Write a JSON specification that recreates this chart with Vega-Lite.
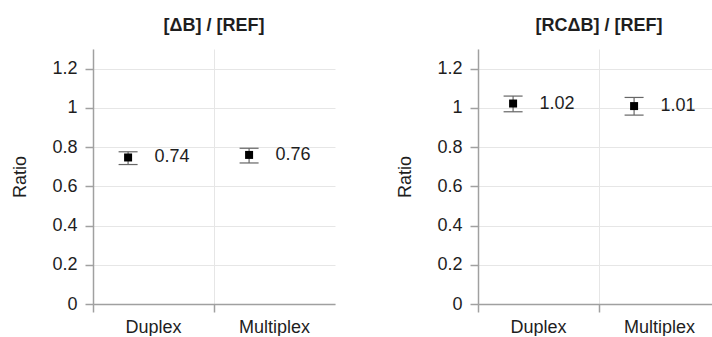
{
  "$schema": "https://vega.github.io/schema/vega-lite/v6.json",
  "padding": {"left": 11, "top": 17, "right": 0, "bottom": 0},
  "background": "white",
  "config": {
    "font": "Liberation Sans",
    "view": {"stroke": null},
    "axis": {
      "labelFont": "Liberation Sans", "labelFontSize": 18, "labelColor": "#1e1e1e",
      "titleFont": "Liberation Sans", "titleFontSize": 18, "titleFontWeight": "normal", "titleColor": "#1e1e1e",
      "domainColor": "#a0a0a0", "tickColor": "#a0a0a0", "gridColor": "#e6e6e6", "tickSize": 8, "domainWidth": 1.5, "tickWidth": 1.5
    },
    "title": {"font": "Liberation Sans", "fontSize": 18, "fontWeight": "bold", "color": "#1e1e1e", "offset": 14},
    "concat": {"spacing": 61}
  },
  "datasets": {
    "a": [
      {"method": "Duplex", "ratio": 0.747, "lo": 0.711, "hi": 0.776, "label": "0.74"},
      {"method": "Multiplex", "ratio": 0.760, "lo": 0.719, "hi": 0.794, "label": "0.76"}
    ],
    "b": [
      {"method": "Duplex", "ratio": 1.022, "lo": 0.980, "hi": 1.060, "label": "1.02"},
      {"method": "Multiplex", "ratio": 1.009, "lo": 0.963, "hi": 1.053, "label": "1.01"}
    ]
  },
  "hconcat": [
    {
      "title": "[ΔB] / [REF]",
      "width": 242, "height": 255,
      "data": {"name": "a"},
      "layer": [
        {
          "mark": {"type": "rule", "color": "#666", "strokeWidth": 1.2},
          "encoding": {
            "x": {"field": "method", "type": "nominal", "bandPosition": 0.29, "sort": ["Duplex", "Multiplex"],
              "scale": {"paddingInner": 0, "paddingOuter": 0},
              "axis": {"title": null, "labelAngle": 0, "grid": true, "bandPosition": 0, "labelPadding": 6}},
            "y": {"field": "lo", "type": "quantitative", "scale": {"domain": [0, 1.3], "nice": false},
              "axis": {"title": "Ratio", "values": [0, 0.2, 0.4, 0.6, 0.8, 1, 1.2], "format": "~g", "labelPadding": 8, "titlePadding": 22, "grid": true}},
            "y2": {"field": "hi"}
          }
        },
        {
          "mark": {"type": "point", "shape": "M-1,0L1,0", "filled": false, "size": 361, "strokeWidth": 1.2, "color": "#666", "opacity": 1},
          "encoding": {
            "x": {"field": "method", "type": "nominal", "bandPosition": 0.29},
            "y": {"field": "hi", "type": "quantitative"}
          }
        },
        {
          "mark": {"type": "point", "shape": "M-1,0L1,0", "filled": false, "size": 361, "strokeWidth": 1.2, "color": "#666", "opacity": 1},
          "encoding": {
            "x": {"field": "method", "type": "nominal", "bandPosition": 0.29},
            "y": {"field": "lo", "type": "quantitative"}
          }
        },
        {
          "mark": {"type": "point", "shape": "square", "filled": true, "color": "#000", "size": 64, "opacity": 1},
          "encoding": {
            "x": {"field": "method", "type": "nominal", "bandPosition": 0.29},
            "y": {"field": "ratio", "type": "quantitative"}
          }
        },
        {
          "mark": {"type": "text", "align": "left", "baseline": "middle", "fontSize": 18, "color": "#1e1e1e", "dx": 1},
          "encoding": {
            "x": {"field": "method", "type": "nominal", "bandPosition": 0.5},
            "y": {"field": "ratio", "type": "quantitative"},
            "text": {"field": "label"}
          }
        }
      ]
    },
    {
      "title": "[RCΔB] / [REF]",
      "width": 242, "height": 255,
      "data": {"name": "b"},
      "layer": [
        {
          "mark": {"type": "rule", "color": "#666", "strokeWidth": 1.2},
          "encoding": {
            "x": {"field": "method", "type": "nominal", "bandPosition": 0.29, "sort": ["Duplex", "Multiplex"],
              "scale": {"paddingInner": 0, "paddingOuter": 0},
              "axis": {"title": null, "labelAngle": 0, "grid": true, "bandPosition": 0, "labelPadding": 6}},
            "y": {"field": "lo", "type": "quantitative", "scale": {"domain": [0, 1.3], "nice": false},
              "axis": {"title": "Ratio", "values": [0, 0.2, 0.4, 0.6, 0.8, 1, 1.2], "format": "~g", "labelPadding": 8, "titlePadding": 22, "grid": true}},
            "y2": {"field": "hi"}
          }
        },
        {
          "mark": {"type": "point", "shape": "M-1,0L1,0", "filled": false, "size": 361, "strokeWidth": 1.2, "color": "#666", "opacity": 1},
          "encoding": {
            "x": {"field": "method", "type": "nominal", "bandPosition": 0.29},
            "y": {"field": "hi", "type": "quantitative"}
          }
        },
        {
          "mark": {"type": "point", "shape": "M-1,0L1,0", "filled": false, "size": 361, "strokeWidth": 1.2, "color": "#666", "opacity": 1},
          "encoding": {
            "x": {"field": "method", "type": "nominal", "bandPosition": 0.29},
            "y": {"field": "lo", "type": "quantitative"}
          }
        },
        {
          "mark": {"type": "point", "shape": "square", "filled": true, "color": "#000", "size": 64, "opacity": 1},
          "encoding": {
            "x": {"field": "method", "type": "nominal", "bandPosition": 0.29},
            "y": {"field": "ratio", "type": "quantitative"}
          }
        },
        {
          "mark": {"type": "text", "align": "left", "baseline": "middle", "fontSize": 18, "color": "#1e1e1e", "dx": 1},
          "encoding": {
            "x": {"field": "method", "type": "nominal", "bandPosition": 0.5},
            "y": {"field": "ratio", "type": "quantitative"},
            "text": {"field": "label"}
          }
        }
      ]
    }
  ]
}
